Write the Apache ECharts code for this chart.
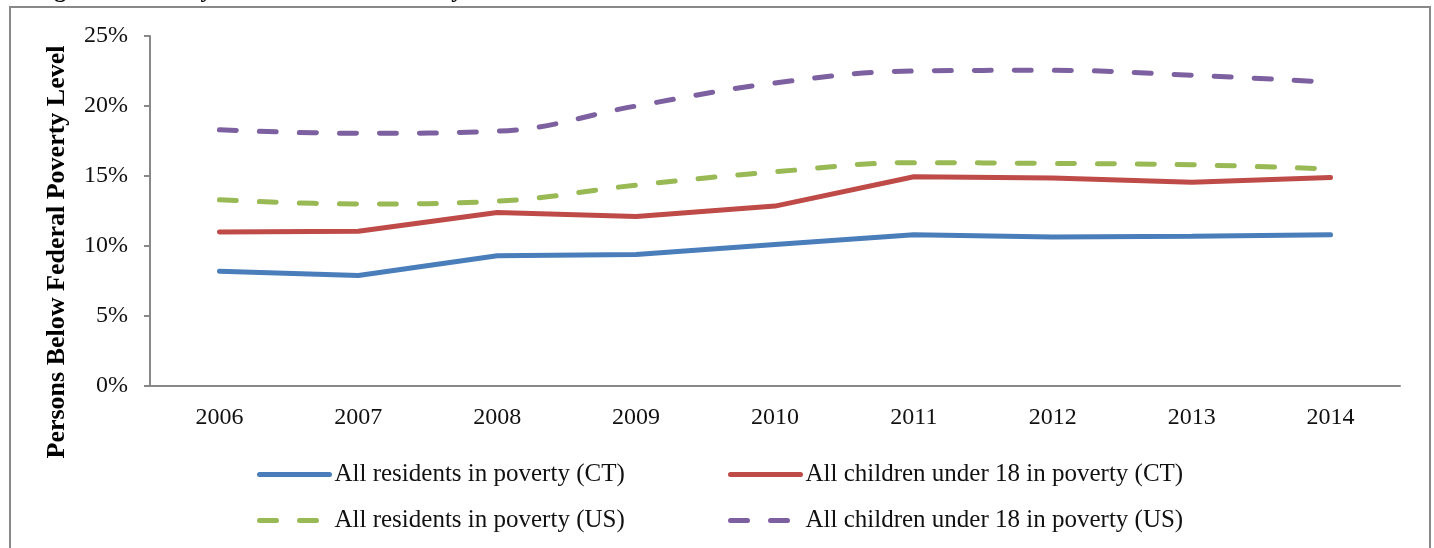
<!DOCTYPE html>
<html>
<head>
<meta charset="utf-8">
<script src="https://cdn.jsdelivr.net/npm/echarts@6/dist/echarts.min.js"></script>
<style>
  html, body { margin: 0; padding: 0; background: #fff; }
  #main { width: 1434px; height: 548px; }
</style>
</head>
<body>
<div id="main"></div>
<script>
// poverty rates by year, percent
var years = ['2006', '2007', '2008', '2009', '2010', '2011', '2012', '2013', '2014'];
var residentsCT = [8.2, 7.9, 9.3, 9.4, 10.1, 10.8, 10.65, 10.7, 10.8];
var childrenCT = [11.0, 11.05, 12.4, 12.1, 12.85, 14.95, 14.85, 14.55, 14.9];
var residentsUS = [13.3, 13.0, 13.2, 14.35, 15.3, 15.95, 15.9, 15.8, 15.5];
var childrenUS = [18.3, 18.05, 18.2, 20.0, 21.65, 22.5, 22.55, 22.2, 21.7];
var yTicks = [0, 5, 10, 15, 20, 25];

var names = [
    'All residents in poverty (CT)',
    'All children under 18 in poverty (CT)',
    'All residents in poverty (US)',
    'All children under 18 in poverty (US)'
];
var serif = '"Liberation Serif", "DejaVu Serif", serif';

var myChart = echarts.init(document.getElementById('main'));

function legendAt(name, left, top) {
    return {
        data: [name],
        left: left,
        top: top,
        itemWidth: 70,
        itemHeight: 14,
        itemGap: 4,
        itemStyle: { opacity: 0 },
        lineStyle: { width: 5, cap: 'round' },
        textStyle: { fontFamily: serif, fontSize: 25, color: '#111' }
    };
}

function makeLine(name, data, color, dashed) {
    return {
        name: name,
        type: 'line',
        data: data,
        symbol: 'none',
        smooth: dashed ? 0.4 : false,
        lineStyle: {
            color: color,
            width: 5,
            type: dashed ? [17, 23] : 'solid',
            cap: 'round'
        },
        itemStyle: { color: color }
    };
}

var option = {
    animation: false,
    title: {
        text: 'Figure 2: Poverty Rates in Connecticut by Year',
        left: 28,
        top: -26,
        textStyle: { fontFamily: serif, fontSize: 24, fontWeight: 'bold', color: '#000' }
    },
    graphic: [{
        type: 'rect',
        shape: { x: 10, y: 7, width: 1420, height: 600 },
        style: { fill: 'none', stroke: '#888', lineWidth: 2 },
        silent: true
    }],
    legend: [
        legendAt(names[0], 252, 457),
        legendAt(names[1], 723, 457),
        legendAt(names[2], 252, 503),
        legendAt(names[3], 723, 503)
    ],
    grid: { left: 150, right: 34, top: 36, bottom: 162 },
    xAxis: {
        type: 'category',
        data: years,
        boundaryGap: true,
        axisLine: { lineStyle: { color: '#888', width: 2 } },
        axisTick: { length: 6, lineStyle: { color: '#888', width: 2 } },
        axisLabel: { fontFamily: serif, fontSize: 24, color: '#111', margin: 20 }
    },
    yAxis: {
        type: 'value',
        min: yTicks[0],
        max: yTicks[yTicks.length - 1],
        interval: 5,
        name: 'Persons Below Federal Poverty Level',
        nameLocation: 'middle',
        nameGap: 80,
        nameTextStyle: { fontFamily: serif, fontSize: 26, fontWeight: 'bold', color: '#000', padding: [0, 0, 0, -82] },
        axisLine: { show: true, lineStyle: { color: '#888', width: 2 } },
        axisTick: { show: true, length: 6, lineStyle: { color: '#888', width: 2 } },
        splitLine: { show: false },
        axisLabel: { fontFamily: serif, fontSize: 24, color: '#111', margin: 22, formatter: '{value}%' }
    },
    series: [
        makeLine(names[0], residentsCT, '#4a7ebb', false),
        makeLine(names[1], childrenCT, '#be4b48', false),
        makeLine(names[2], residentsUS, '#98b954', true),
        makeLine(names[3], childrenUS, '#7d60a0', true)
    ]
};
myChart.setOption(option);
</script>
</body>
</html>
